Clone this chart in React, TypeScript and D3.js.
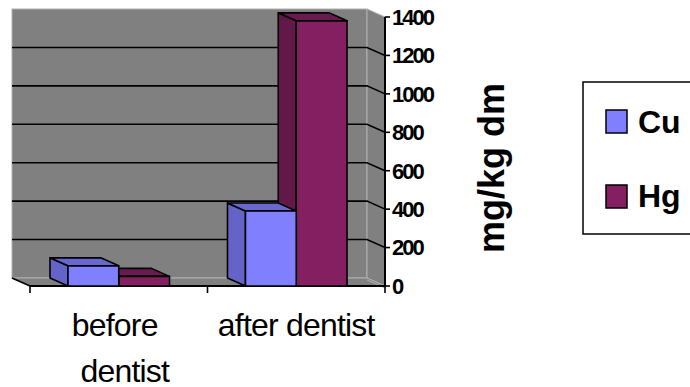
import React from "react";
import * as d3 from "d3";

const categories = ["before dentist", "after dentist"];
const categoryLabelLines = [["before", "dentist"], ["after dentist"]];
const seriesNames = ["Cu", "Hg"];
const cuValues = [105, 390];
const hgValues = [50, 1380];
const yTicks = [0, 200, 400, 600, 800, 1000, 1200, 1400];
const yTitle = "mg/kg dm";

const frontColors = ["#8080ff", "#842062"];
const sideColors = ["#6464c8", "#63184a"];
const topColors = ["#6868d0", "#6a1a50"];

const FONT = "'Liberation Sans', Arial, sans-serif";

export default function App() {
  const W = 690, H = 387;
  const left = 30, right = 385, bottom = 286, top = 17;
  const DX = -18, DY = -8;
  const wallGray = "#808080";
  const edgeGray = "#b0b0b0";

  const y = d3.scaleLinear().domain([0, 1400]).range([bottom, top]);
  const x0 = d3.scaleBand<string>().domain(categories).range([left, right]).padding(0);
  const bw = x0.bandwidth();
  const x1 = d3.scaleBand<string>().domain(seriesNames).range([bw * 0.214, bw * 0.786]).padding(0);
  const seriesValues = [cuValues, hgValues];

  const pts = (arr: number[][]) => arr.map((p) => p.join(",")).join(" ");

  const bars: React.ReactNode[] = [];
  for (let ci = categories.length - 1; ci >= 0; ci--) {
    for (let si = seriesNames.length - 1; si >= 0; si--) {
      const v = seriesValues[si][ci];
      const xl = (x0(categories[ci]) as number) + (x1(seriesNames[si]) as number);
      const xr = xl + x1.bandwidth();
      const yt = y(v);
      const yb = y(0);
      const sideP = [[xl, yb], [xl, yt], [xl + DX, yt + DY], [xl + DX, yb + DY]];
      const topP = [[xl, yt], [xr, yt], [xr + DX, yt + DY], [xl + DX, yt + DY]];
      bars.push(
        <g key={`b${ci}-${si}`} stroke="#000" strokeWidth={1.6} strokeLinejoin="round">
          <polygon points={pts(sideP)} fill={sideColors[si]} />
          <polygon points={pts(topP)} fill={topColors[si]} />
          <rect x={xl} y={yt} width={xr - xl} height={yb - yt} fill={frontColors[si]} />
        </g>
      );
    }
  }

  const bl = left + DX, br = right + DX;
  const catTicks = [left, ...categories.map((c) => (x0(c) as number) + bw)];

  return (
    <svg width={W} height={H} style={{ position: "absolute", left: 0, top: 0, background: "#fff" }} fontFamily={FONT}>
      <rect x={bl} y={top + DY} width={br - bl} height={bottom - top} fill={wallGray} stroke={edgeGray} strokeWidth={1} />
      <polygon points={pts([[br, top + DY], [right, top], [right, bottom], [br, bottom + DY]])} fill={wallGray} stroke={edgeGray} strokeWidth={1} />
      <polygon points={pts([[bl, bottom + DY], [br, bottom + DY], [right, bottom], [left, bottom]])} fill={wallGray} stroke={edgeGray} strokeWidth={1} />
      <line x1={br} y1={bottom + DY + 2} x2={right} y2={bottom + 2} stroke={edgeGray} strokeWidth={1} />
      {yTicks.filter((t) => t !== 0 && t !== 1400).map((t) => (
        <g key={`g${t}`} stroke="#000" strokeWidth={1.6} fill="none">
          <polyline points={pts([[bl, y(t) + DY], [br, y(t) + DY], [right, y(t)]])} />
        </g>
      ))}
      <line x1={bl} y1={bottom + DY} x2={left} y2={bottom} stroke="#000" strokeWidth={1.6} />
      <line x1={left} y1={bottom} x2={right} y2={bottom} stroke="#000" strokeWidth={2} />
      {catTicks.map((t, i) => (
        <line key={`ct${i}`} x1={t} y1={bottom} x2={t} y2={bottom + 7} stroke="#000" strokeWidth={1.6} />
      ))}
      {bars}
      <line x1={right} y1={top} x2={right} y2={bottom} stroke="#000" strokeWidth={2} />
      {yTicks.map((t) => (
        <g key={`yt${t}`}>
          <line x1={right} y1={y(t)} x2={right + 5} y2={y(t)} stroke="#000" strokeWidth={1.6} />
          <text x={right + 7} y={y(t)} dy="0.36em" fontSize={22} fontWeight="bold" letterSpacing={-2} fill="#000">
            {t}
          </text>
        </g>
      ))}
      <text transform={`translate(504,168) rotate(-90)`} textAnchor="middle" fontSize={36} fontWeight="bold" fill="#000">
        {yTitle}
      </text>
      {categories.map((c, i) => (
        <text key={`cl${c}`} textAnchor="middle" fontSize={32} fill="#000" letterSpacing={-0.8}>
          {categoryLabelLines[i].map((ln, j) => (
            <tspan key={j} x={(x0(c) as number) + bw / 2 + (categoryLabelLines[i].length > 1 ? (j === 0 ? -4 : 6) : 0)} y={336 + j * 46}>
              {ln}
            </tspan>
          ))}
        </text>
      ))}
      <rect x={583} y={82} width={130} height={152} fill="#fff" stroke="#000" strokeWidth={1.5} />
      {seriesNames.map((s, i) => (
        <g key={`lg${s}`}>
          <rect x={606} y={110 + i * 75} width={21} height={23} fill={frontColors[i]} stroke="#000" strokeWidth={1.5} />
          <text x={638} y={133 + i * 74} fontSize={32} fontWeight="bold" fill="#000">
            {s}
          </text>
        </g>
      ))}
    </svg>
  );
}
